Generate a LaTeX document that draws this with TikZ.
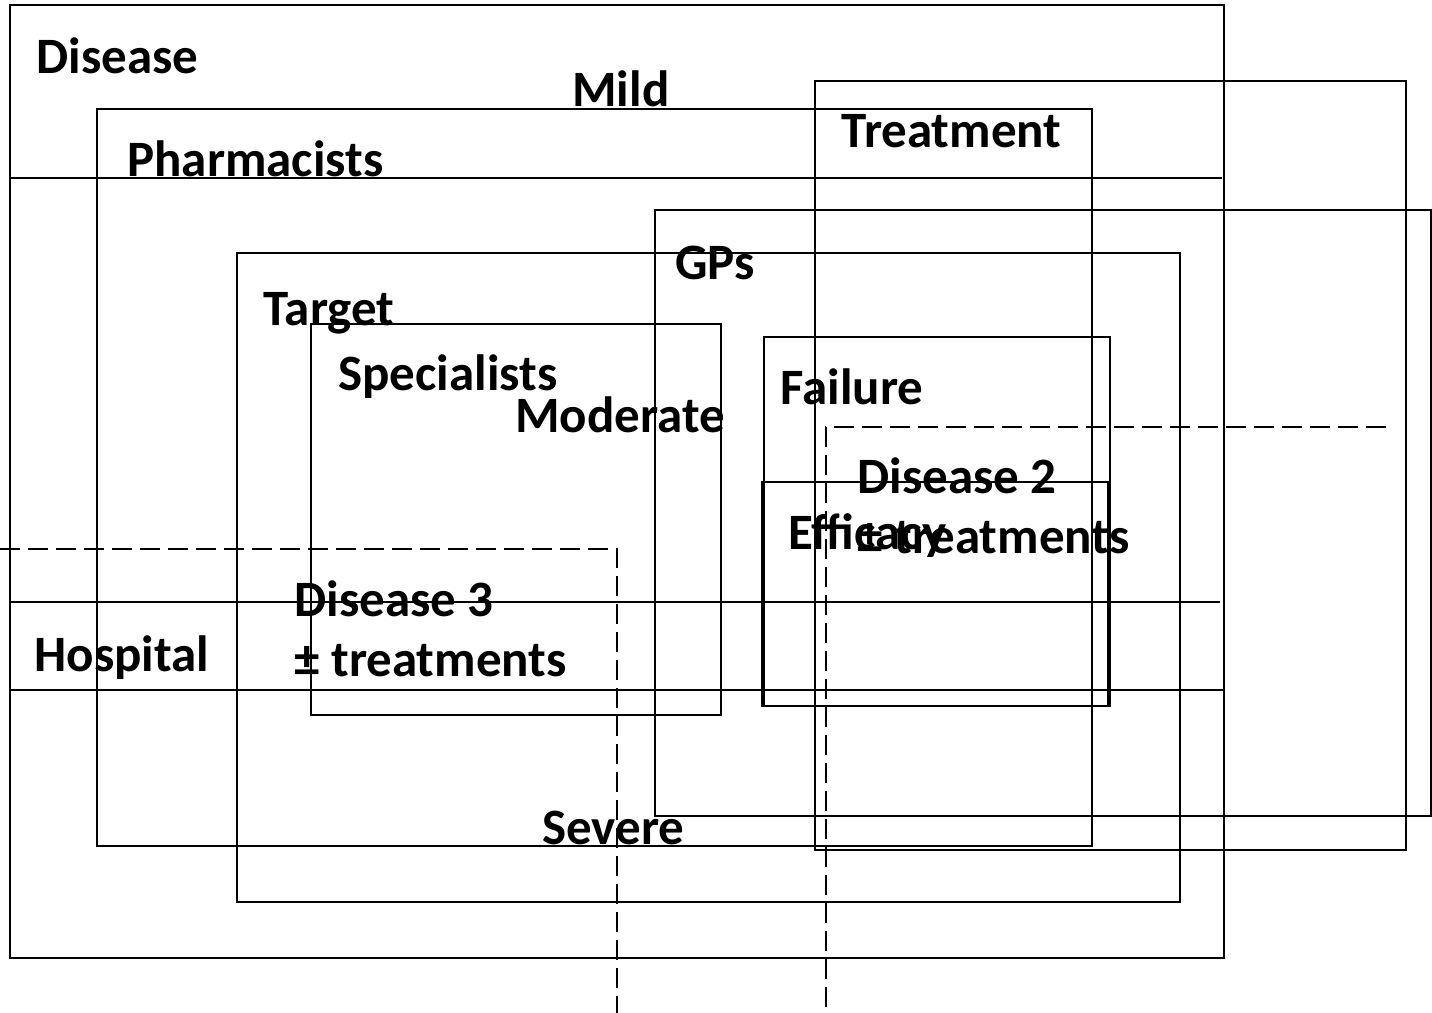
\documentclass[tikz,border=0pt]{standalone}
\usepackage{fontspec}
\setmainfont{Carlito}
\begin{document}
\begin{tikzpicture}[x=0.5pt,y=-0.5pt,
  box/.style={draw=black,line width=1pt},
  rule/.style={draw=black,line width=1pt},
  dline/.style={draw=black,line width=1pt,dash pattern=on 10pt off 4pt},
  lbl/.style={anchor=base west,inner sep=0pt,font=\fontsize{25.5}{30}\selectfont\bfseries,align=left}]
\useasboundingbox (0,0) rectangle (1432,1013);
% rectangles
\draw[box] (10,5) rectangle (1224,958);     % Disease
\draw[box] (97,109) rectangle (1092,846);   % Pharmacists
\draw[box] (237,253) rectangle (1180,902);  % Target
\draw[box] (311,324) rectangle (721,715);   % Specialists
\draw[box] (655,210) rectangle (1431,816);  % GPs
\draw[box] (815,81) rectangle (1406,850);   % Treatment
\draw[box] (764,337) rectangle (1110,706);  % Failure
\draw[box] (762,482) rectangle (1108,706);  % Efficacy
% horizontal severity lines
\coordinate (m1) at (10,178);  \coordinate (m2) at (1222,178);
\coordinate (s1) at (10,602);  \coordinate (s2) at (1220,602);
\coordinate (h1) at (10,690);  \coordinate (h2) at (1223,690);
\draw[rule] (m1) -- (m2);
\draw[rule] (s1) -- (s2);
\draw[rule] (h1) -- (h2);
% dashed disease outlines
\coordinate (d2a) at (1386,427); \coordinate (d2b) at (826,427); \coordinate (d2c) at (826,1013);
\coordinate (d3a) at (0,549); \coordinate (d3b) at (617,549); \coordinate (d3c) at (617,1013);
\draw[dline] (d2a) -- (d2b) -- (d2c);
\draw[dline] (d3a) -- (d3b) -- (d3c);
% labels
\node[lbl] (tDisease) at (36,73) {Disease};
\node[lbl] (tMild) at (572,106) {Mild};
\node[lbl] (tTreat) at (841,147) {Treatment};
\node[lbl] (tPharm) at (127,176) {Pharmacists};
\node[lbl] (tGPs) at (675,279) {GPs};
\node[lbl] (tTarget) at (263,325) {Target};
\node[lbl] (tSpec) at (338,390) {Specialists};
\node[lbl] (tMod) at (515,432) {Moderate};
\node[lbl] (tFail) at (780,404) {Failure};
\node[lbl] (tD2) at (857,553) {Disease 2\\± treatments};
\node[lbl] (tEff) at (788,549) {Efficacy};
\node[lbl] (tD3) at (294,676) {Disease 3\\± treatments};
\node[lbl] (tHosp) at (34,671) {Hospital};
\node[lbl] (tSev) at (542,844) {Severe};
\end{tikzpicture}
\end{document}
